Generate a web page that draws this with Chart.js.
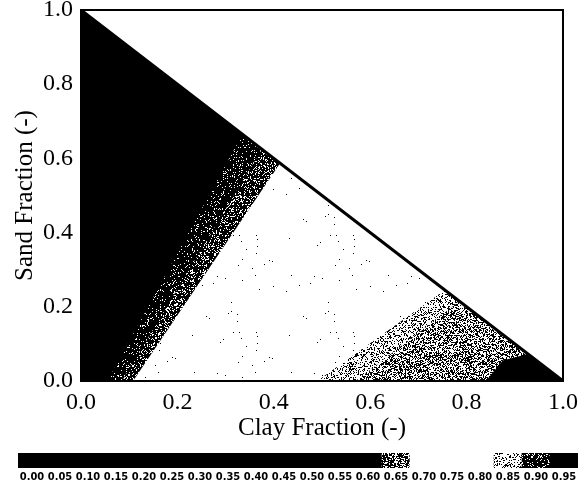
<!DOCTYPE html>
<html>
<head>
<meta charset="utf-8">
<script src="https://cdn.jsdelivr.net/npm/chart.js@4.4.1/dist/chart.umd.min.js"></script>
<style>
  html, body { margin: 0; padding: 0; background: #fff; }
  #wrap { position: relative; width: 580px; height: 489px; overflow: hidden; background: #fff; }
  #main { position: absolute; left: 0; top: 0; }
  #scaleBar { position: absolute; left: 0; top: 445px; }
</style>
</head>
<body>
<div id="wrap">
  <canvas id="main" width="580" height="445"></canvas>
  <canvas id="scaleBar" width="580" height="44"></canvas>
</div>
<script>
// ---- values ----
const axisTicks = [0, 0.2, 0.4, 0.6, 0.8, 1.0];

// soil triangle: clay + sand <= 1
const triangleClay = [0, 1];
const triangleSand = [1, 0];

// class boundaries, each running from the clay axis up to the hypotenuse
const bandDarkClay  = [0.055, 0.335, 1];
const bandDarkSand  = [0, 0.665, 0];
const bandLightClay = [0.085, 0.375, 1];
const bandLightSand = [0, 0.625, 0];
const openClay      = [0.108, 0.413, 1];
const openSand      = [0, 0.587, 0];
const grayOuterClay = [0.49, 0.755, 1];
const grayOuterSand = [0, 0.245, 0];
const grayInnerClay = [0.57, 0.785, 1];
const grayInnerSand = [0, 0.215, 0];
const cornerClay    = [0.84, 0.875, 0.925, 1];
const cornerSand    = [0, 0.055, 0.072, 0];

// colour scale classes
const scaleTicks = ['0.00','0.05','0.10','0.15','0.20','0.25','0.30','0.35','0.40','0.45',
                    '0.50','0.55','0.60','0.65','0.70','0.75','0.80','0.85','0.90','0.95'];
const scaleSpan  = [1,1,1,1,1,1,1,1,1,1,1,1,1,1,1,1,1,1,1,1];

// ---- halftone fills ----
function hash(x, y, s) {
  let h = (Math.imul(x, 374761393) + Math.imul(y, 668265263) + Math.imul(s, 1442695041)) | 0;
  h = Math.imul(h ^ (h >>> 13), 1274126177);
  h = h ^ (h >>> 16);
  return (h >>> 0) / 4294967296;
}
function speckle(density, seed) {
  if (density >= 1) return '#000000';
  if (density <= 0) return '#ffffff';
  const n = 97;
  const c = document.createElement('canvas');
  c.width = n; c.height = n;
  const g = c.getContext('2d');
  const img = g.createImageData(n, n);
  for (let y = 0; y < n; y++) {
    for (let x = 0; x < n; x++) {
      const k = (y * n + x) * 4;
      const v = hash(x, y, seed) < density ? 0 : 255;
      img.data[k] = img.data[k + 1] = img.data[k + 2] = v;
      img.data[k + 3] = 255;
    }
  }
  g.putImageData(img, 0, 0);
  return g.createPattern(c, 'repeat');
}

function pts(xs, ys) { return xs.map((x, i) => ({ x: x, y: ys[i] })); }

const layers = [
  { clay: triangleClay,  sand: triangleSand,  fill: speckle(1, 1) },
  { clay: bandDarkClay,  sand: bandDarkSand,  fill: speckle(0.9, 2) },
  { clay: bandLightClay, sand: bandLightSand, fill: speckle(0.78, 3) },
  { clay: openClay,      sand: openSand,      fill: speckle(0.003, 4) },
  { clay: grayOuterClay, sand: grayOuterSand, fill: speckle(0.3, 5) },
  { clay: grayInnerClay, sand: grayInnerSand, fill: speckle(0.48, 6) },
  { clay: cornerClay,    sand: cornerSand,    fill: speckle(1, 7) }
];

const datasets = layers.map((l, i) => ({
  data: pts(l.clay, l.sand),
  fill: 'origin',
  backgroundColor: l.fill,
  borderWidth: 0,
  borderColor: 'rgba(0,0,0,0)',
  pointRadius: 0,
  tension: 0,
  order: layers.length + 1 - i
}));
datasets.push({
  data: pts(triangleClay, triangleSand),
  fill: false,
  borderColor: '#000',
  borderWidth: 3,
  pointRadius: 0,
  tension: 0,
  order: 0
});

const serif = "'Liberation Serif', 'Times New Roman', Times, serif";

const frame = {
  id: 'frame',
  afterDraw(chart) {
    const a = chart.chartArea, ctx = chart.ctx;
    ctx.save();
    ctx.strokeStyle = '#000';
    ctx.lineWidth = 2;
    ctx.strokeRect(a.left, a.top, a.right - a.left, a.bottom - a.top);
    ctx.restore();
  }
};

new Chart(document.getElementById('main'), {
  type: 'line',
  data: { datasets: datasets },
  options: {
    responsive: false,
    animation: false,
    devicePixelRatio: 1,
    layout: { padding: { top: 10, right: 17, left: 0, bottom: 0 } },
    plugins: { legend: { display: false }, tooltip: { enabled: false } },
    scales: {
      x: {
        type: 'linear', min: 0, max: 1,
        afterBuildTicks: s => { s.ticks = axisTicks.map(v => ({ value: v })); },
        afterFit: s => { s.height = 64; s.paddingLeft = 0; s.paddingRight = 0; },
        grid: { display: false, drawTicks: false },
        border: { display: false },
        ticks: { color: '#000', padding: 7, font: { family: serif, size: 24 },
                 callback: v => Number(v).toFixed(1) },
        title: { display: true, text: 'Clay Fraction (-)', color: '#000',
                 font: { family: serif, size: 25 }, padding: { top: 0, bottom: 2 } }
      },
      y: {
        type: 'linear', min: 0, max: 1,
        afterBuildTicks: s => { s.ticks = axisTicks.map(v => ({ value: v })); },
        afterFit: s => { s.width = 81; s.paddingTop = 0; s.paddingBottom = 0; },
        grid: { display: false, drawTicks: false },
        border: { display: false },
        ticks: { color: '#000', padding: 8, font: { family: serif, size: 24 },
                 callback: v => Number(v).toFixed(1) },
        title: { display: true, text: 'Sand Fraction (-)', color: '#000',
                 font: { family: serif, size: 25 }, padding: { top: 10, bottom: 0 } }
      }
    }
  },
  plugins: [frame]
});

// colour scale strip
const scaleFills = scaleTicks.map(t => {
  const v = parseFloat(t);
  if (v < 0.65) return speckle(1, 10);
  if (v < 0.70) return speckle(0.6, 11);
  if (v < 0.85) return speckle(0, 12);
  if (v < 0.90) return speckle(0.25, 13);
  if (v < 0.95) return speckle(0.85, 14);
  return speckle(1, 15);
});

new Chart(document.getElementById('scaleBar'), {
  type: 'bar',
  data: {
    labels: scaleTicks,
    datasets: [{ data: scaleSpan, backgroundColor: scaleFills, borderWidth: 0,
                 barPercentage: 1, categoryPercentage: 1 }]
  },
  options: {
    responsive: false,
    animation: false,
    devicePixelRatio: 1,
    layout: { padding: { top: 8, right: 2, left: 18, bottom: 0 } },
    plugins: { legend: { display: false }, tooltip: { enabled: false } },
    scales: {
      y: { display: false, min: 0, max: 1 },
      x: {
        afterFit: s => { s.height = 21; },
        grid: { display: false, drawTicks: false },
        border: { display: false },
        ticks: { color: '#000', padding: 3, autoSkip: false, maxRotation: 0,
                 font: { family: "'DejaVu Sans Condensed', 'Liberation Sans Narrow', sans-serif",
                         size: 11, weight: 'bold' } }
      }
    }
  }
});
</script>
</body>
</html>
